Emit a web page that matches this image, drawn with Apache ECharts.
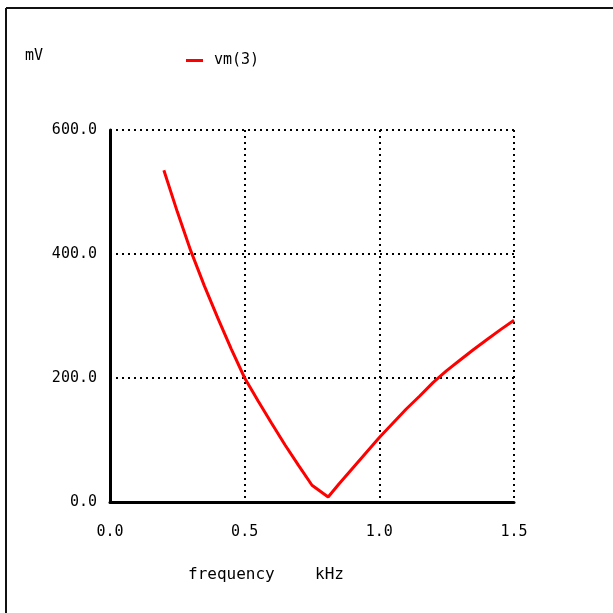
<!DOCTYPE html>
<html>
<head>
<meta charset="utf-8">
<script src="https://cdn.jsdelivr.net/npm/echarts@6/dist/echarts.min.js"></script>
<style>
  html, body { margin: 0; padding: 0; background: #fff; }
  #chart { width: 613px; height: 613px; }
</style>
</head>
<body>
<div id="chart"></div>
<script>
// frequency (kHz) and vm(3) (mV)
const freq = [0.2, 0.25, 0.3, 0.35, 0.4, 0.45, 0.5, 0.55, 0.6, 0.65, 0.7, 0.75, 0.81, 0.85, 0.9, 0.95, 1.0, 1.05, 1.1, 1.15, 1.2, 1.25, 1.3, 1.35, 1.4, 1.45, 1.5]
const vm3 = [535, 468, 405, 349, 297, 247, 200, 163, 127, 92, 59, 27, 8, 29, 54, 79, 104, 127, 150, 171, 193, 212, 229, 246, 262, 278, 293]
const xTicks = [0, 0.5, 1.0, 1.5]
const yTicks = [0, 200, 400, 600]

const font = '"DejaVu Sans Mono", "Liberation Mono", monospace'
const chart = echarts.init(document.getElementById('chart'))

chart.setOption({
  backgroundColor: '#fff',
  animation: false,
  grid: { left: 110, right: 99, top: 130, bottom: 111 },
  legend: {
    left: 181, top: 48,
    icon: 'rect', itemWidth: 17, itemHeight: 3, itemGap: 10,
    textStyle: { fontFamily: font, fontSize: 15, color: '#000', padding: [0, 0, 0, 6] },
    data: ['vm(3)']
  },
  xAxis: {
    type: 'value', min: xTicks[0], max: xTicks[xTicks.length - 1], interval: 0.5,
    axisLine: { show: true, lineStyle: { color: '#000', width: 3 } },
    axisTick: { show: false },
    axisLabel: { margin: 23, fontFamily: font, fontSize: 15, color: '#000', formatter: v => v.toFixed(1) },
    splitLine: { show: true, lineStyle: { color: '#000', width: 2, type: [2, 4] } }
  },
  yAxis: {
    type: 'value', min: yTicks[0], max: yTicks[yTicks.length - 1], interval: 200,
    axisLine: { show: true, lineStyle: { color: '#000', width: 3 } },
    axisTick: { show: false },
    axisLabel: { margin: 13, fontFamily: font, fontSize: 15, color: '#000', formatter: v => v.toFixed(1) },
    splitLine: { show: true, lineStyle: { color: '#000', width: 2, type: [2, 4] } }
  },
  graphic: [
    { type: 'line', shape: { x1: 6, y1: 8, x2: 613, y2: 8 }, style: { stroke: '#111', lineWidth: 2 } },
    { type: 'line', shape: { x1: 6, y1: 8, x2: 6, y2: 613 }, style: { stroke: '#111', lineWidth: 2 } },
    { type: 'text', left: 25, top: 49, style: { text: 'mV', font: '15px ' + font, fill: '#000' } },
    { type: 'text', left: 188, top: 567, style: { text: 'frequency', font: '16px ' + font, fill: '#000' } },
    { type: 'text', left: 315, top: 567, style: { text: 'kHz', font: '16px ' + font, fill: '#000' } }
  ],
  series: [{
    name: 'vm(3)',
    type: 'line',
    data: freq.map((f, i) => [f, vm3[i]]),
    showSymbol: false,
    symbol: 'none',
    lineStyle: { color: '#ff0000', width: 3 },
    itemStyle: { color: '#ff0000' }
  }]
})
</script>
</body>
</html>
